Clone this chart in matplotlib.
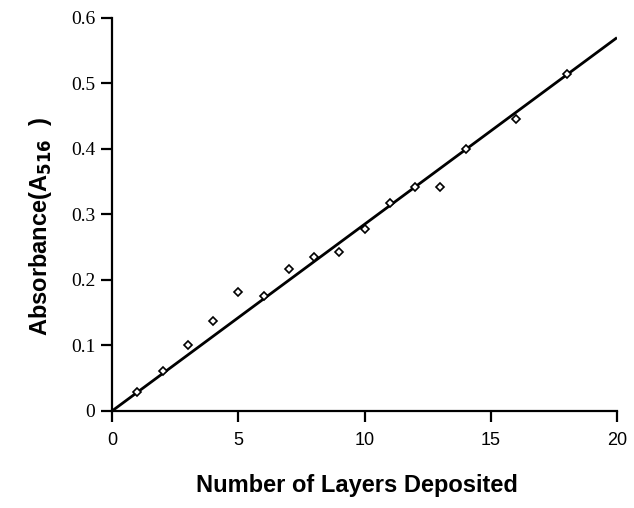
import matplotlib
matplotlib.use("Agg")
import matplotlib.pyplot as plt

# absorbance at 516 nm vs. number of deposited layers
layers = [1, 2, 3, 4, 5, 6, 7, 8, 9, 10, 11, 12, 13, 14, 16, 18]
absorbance = [0.029, 0.061, 0.101, 0.137, 0.181, 0.176, 0.217, 0.235, 0.242,
              0.278, 0.318, 0.342, 0.342, 0.400, 0.446, 0.514]

# linear fit through the origin
fit_x = [0, 20]
fit_y = [0, 0.57]

x_ticks = [0, 5, 10, 15, 20]
y_ticks = [0, 0.1, 0.2, 0.3, 0.4, 0.5, 0.6]
y_ticklabels = ["0", "0.1", "0.2", "0.3", "0.4", "0.5", "0.6"]

fig = plt.figure(figsize=(6.34, 5.08), dpi=100)
ax = fig.add_axes([0.1767, 0.191, 0.7965, 0.7736])

ax.plot(fit_x, fit_y, color="black", lw=2.0, solid_capstyle="butt")
ax.plot(layers, absorbance, linestyle="none", marker="D", markersize=4,
        markerfacecolor="white", markeredgecolor="black", markeredgewidth=1.2)

ax.set_xlim(0, 20)
ax.set_ylim(0, 0.6)
ax.spines["top"].set_visible(False)
ax.spines["right"].set_visible(False)
for s in ("left", "bottom"):
    ax.spines[s].set_linewidth(1.6)

ax.set_xticks(x_ticks)
ax.set_xticklabels([str(t) for t in x_ticks], fontfamily="Liberation Sans", fontsize=13)
ax.set_yticks(y_ticks)
ax.set_yticklabels(y_ticklabels, fontfamily="Liberation Serif", fontsize=14)
ax.tick_params(axis="x", direction="out", length=8, width=1.6, pad=7)
ax.tick_params(axis="y", direction="out", length=8, width=1.6, pad=4)

ax.set_xlabel("Number of Layers Deposited", fontfamily="Liberation Sans",
              fontweight="bold", fontsize=17)
ax.xaxis.set_label_coords(0.485, -0.16)
ax.set_ylabel(r"Absorbance(A$_{\mathbf{516}}$  )", fontfamily="Liberation Sans",
              fontweight="bold", fontsize=17)
ax.yaxis.set_label_coords(-0.115, 0.47)

fig.savefig("out.png", dpi=100)
